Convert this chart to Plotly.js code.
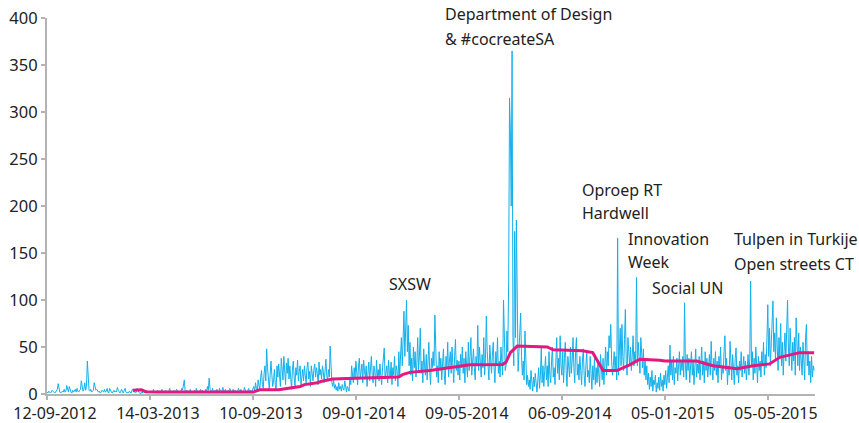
<!DOCTYPE html>
<html>
<head>
<meta charset="utf-8">
<script src="https://cdn.plot.ly/plotly-3.0.1.min.js"></script>
<style>html,body{margin:0;padding:0;background:#fff}#chart{width:859px;height:423px}</style>
</head>
<body>
<div id="chart"></div>
<script>
// Daily counts (one value per day index)
const dailyValues = [
2,1,3,2,1,2,4,3,2,1,2,3,5,11,6,2,1,2,3,2,
5,2,3,9,4,2,8,3,2,1,4,2,3,5,2,6,3,2,4,5,
14,6,3,5,12,4,8,35,10,4,3,5,2,3,4,12,8,4,5,3,
2,3,1,2,4,3,2,5,2,3,6,2,1,6,3,2,1,2,4,2,
3,2,7,4,2,1,3,5,2,1,4,6,2,1,2,1,3,2,1,4,
5,2,3,1,2,6,3,2,1,0,2,1,3,2,1,2,4,1,2,3,
1,2,3,1,5,2,1,3,2,4,1,2,1,3,5,2,1,2,4,3,
2,1,3,6,2,1,2,3,4,1,2,5,3,2,1,3,2,6,4,8,
15,3,2,4,1,3,2,5,1,2,3,2,4,1,6,3,2,1,3,5,
2,4,1,3,2,5,3,8,4,17,5,3,2,6,1,3,4,2,5,3,
2,6,3,1,4,7,2,3,5,2,1,4,3,6,2,1,3,5,2,4,
3,1,2,6,4,2,5,1,3,2,7,4,2,1,3,6,2,4,1,3,
5,8,3,12,6,2,15,9,4,18,25,10,6,22,30,14,48,28,12,5,
20,35,21,8,14,26,10,4,30,18,32,12,8,38,24,15,40,28,10,33,
22,38,16,30,12,5,25,35,18,8,28,20,36,14,24,30,10,18,26,14,
30,20,12,28,34,16,24,8,30,22,14,26,32,18,28,22,10,34,20,26,
16,30,24,12,28,37,20,14,26,18,51,30,12,8,15,6,10,4,8,3,
12,5,8,3,10,6,4,14,5,2,8,6,3,17,10,30,22,12,28,18,
35,20,10,30,38,16,26,32,12,36,24,18,30,8,22,34,14,28,40,20,
12,30,24,8,36,18,26,14,32,20,10,28,38,49,16,24,30,12,36,22,
18,34,10,28,20,40,14,30,24,8,45,20,38,60,30,52,88,40,75,100,
45,73,30,55,20,38,14,50,28,45,18,32,60,25,40,70,22,35,12,48,
30,20,42,15,35,55,24,10,38,28,45,30,84,40,18,30,12,45,25,38,
15,32,48,20,10,40,28,55,18,35,45,22,50,30,12,40,58,25,36,20,
35,15,42,28,50,22,38,12,45,30,18,55,25,40,60,20,35,48,28,15,
40,30,73,25,50,35,18,42,28,60,20,38,83,45,30,15,52,35,22,40,
55,28,12,45,30,60,22,35,18,50,30,20,100,40,25,30,67,45,120,315,
280,200,365,60,30,173,60,185,50,24,45,60,86,40,20,35,15,67,25,10,
20,8,15,5,25,12,3,18,8,22,10,2,15,28,6,20,49,12,30,8,
25,40,15,30,8,45,20,12,35,50,18,28,10,42,60,22,38,15,62,30,
20,45,12,38,55,25,8,40,30,18,50,22,35,60,28,12,45,60,20,32,
15,40,25,10,35,48,20,8,30,45,18,25,12,40,22,5,30,15,38,10,
28,12,35,20,8,42,25,15,38,10,30,50,20,45,30,62,49,74,35,20,
30,45,25,40,15,166,20,55,70,30,74,40,25,58,90,35,20,60,44,30,
50,25,40,62,30,45,35,124,30,55,40,22,60,35,28,48,20,38,15,30,
10,22,5,18,8,25,3,15,10,20,2,12,6,18,4,22,8,15,3,20,
10,25,6,18,30,12,52,20,35,15,40,10,28,22,38,14,30,45,20,35,
25,40,18,97,30,15,42,25,38,12,30,45,20,35,10,28,48,18,32,22,
40,15,30,50,20,35,12,45,25,38,18,30,42,20,56,28,15,38,25,45,
20,35,12,40,28,50,15,30,22,45,62,25,38,10,30,20,56,35,15,42,
28,10,38,49,20,30,12,35,25,45,18,30,40,22,35,15,28,42,20,38,
120,30,45,15,38,22,50,28,12,40,25,35,18,45,30,55,20,42,28,60,
95,40,70,30,55,85,99,45,65,35,81,50,25,60,40,75,30,55,20,45,
65,35,80,100,50,30,70,40,25,55,35,60,20,81,45,30,65,25,50,35,
20,55,40,15,60,74,30,45,20,35,12,40,18,30,25
];

// Moving average: day index and value
const avgIndex = [100,110,115,130,240,248,270,280,295,300,315,320,333,350,373,390,410,415,423,446,470,493,531,535,540,548,583,590,624,636,648,664,679,691,714,720,757,776,804,823,842,854,877,894];
const avgValues = [4,4.5,2.5,2,2,4.5,4.5,6,8,10,12,13.5,16,16.5,17,18,18,21,23,25,28,31,31.5,34,44,51,50,47,46,44,25,25,31,37,36,35,35,30,27,30,32,39,44,44];

// Axis tick labels (every 120 days)
const tickIndex = [0,120,240,360,480,600,720,840];
const tickLabels = ["12-09-2012","14-03-2013","10-09-2013","09-01-2014","09-05-2014","06-09-2014","05-01-2015","05-05-2015"];

const dayIndex = dailyValues.map((_, i) => i);

const FONT = "Noto Sans, Open Sans, sans-serif";
const textColor = "#222";

const traces = [
  {x: dayIndex, y: dailyValues, type: "scatter", mode: "lines",
   line: {color: "#12b0ec", width: 1}, hoverinfo: "skip"},
  {x: avgIndex, y: avgValues, type: "scatter", mode: "lines",
   line: {color: "#e6177f", width: 3}, hoverinfo: "skip"}
];

function ann(x, y, text) {
  return {x: x, y: y, xref: "x", yref: "paper", text: text, showarrow: false,
          xanchor: "left", yanchor: "middle",
          font: {family: FONT, size: 16, color: textColor}};
}

const layout = {
  width: 859, height: 423,
  margin: {l: 47, r: 44, t: 18, b: 29},
  paper_bgcolor: "#fff", plot_bgcolor: "#fff",
  showlegend: false,
  font: {family: FONT, size: 16, color: textColor},
  xaxis: {range: [0, 895], showgrid: false, zeroline: false,
          showline: true, linecolor: "#b3b3b3", linewidth: 2,
          ticks: "outside", ticklen: 4, tickcolor: "#b3b3b3", tickwidth: 1.5,
          tickangle: 0, ticklabelshift: 8,
          tickmode: "array", tickvals: tickIndex, ticktext: tickLabels,
          tickfont: {family: FONT, size: 16, color: textColor}},
  yaxis: {range: [0, 400], showgrid: false, zeroline: false,
          showline: true, linecolor: "#b3b3b3", linewidth: 2,
          ticks: "outside", ticklen: 4, tickcolor: "#b3b3b3", tickwidth: 1.5,
          tickmode: "linear", tick0: 0, dtick: 50,
          tickfont: {family: FONT, size: 16.5, color: textColor}},
  annotations: [
    ann(461, 1.0106, "Department of Design"),
    ann(461, 0.9441, "&amp; #cocreateSA"),
    ann(396, 0.2926, "SXSW"),
    ann(621, 0.5426, "Oproep RT"),
    ann(621, 0.4814, "Hardwell"),
    ann(674.5, 0.4122, "Innovation"),
    ann(674.5, 0.3511, "Week"),
    ann(702.5, 0.2819, "Social UN"),
    ann(798, 0.4122, "Tulpen in Turkije"),
    ann(798, 0.3457, "Open streets CT")
  ]
};

Plotly.newPlot("chart", traces, layout, {displayModeBar: false, staticPlot: true});
</script>
</body>
</html>
